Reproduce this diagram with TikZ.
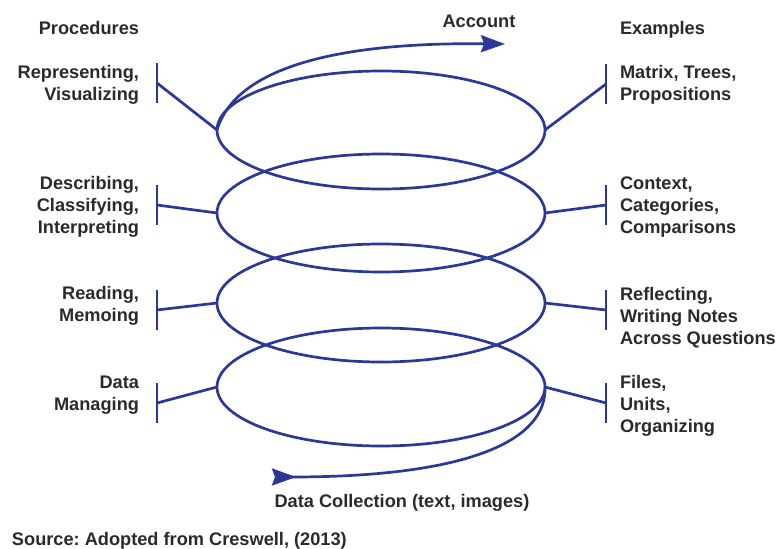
\documentclass[tikz,border=0pt]{standalone}
\usepackage{fontspec}
\setmainfont{Liberation Sans}
\usetikzlibrary{arrows.meta,shapes.geometric}
\definecolor{loopblue}{RGB}{44,56,152}
\definecolor{inkgray}{RGB}{42,42,42}
\frenchspacing
\begin{document}
\begin{tikzpicture}[x=1pt,y=-1pt,
  txt/.style={font=\bfseries\fontsize{18.2}{22}\selectfont, text=inkgray, inner sep=0pt, outer sep=0pt},
  % a multi-line node's base is the baseline of its last line
  lefttxt/.style={txt, align=right, anchor=base east},
  righttxt/.style={txt, align=left, anchor=base west},
  loop/.style={draw=loopblue, line width=2.7pt, ellipse, minimum width=328pt, minimum height=118pt, inner sep=0pt, outer sep=0pt},
  tickmark/.style={minimum height=40pt, minimum width=0pt, inner sep=0pt, outer sep=0pt},
  link/.style={draw=loopblue, line width=2.7pt},
  flow/.style={link, -{Stealth[length=24pt,width=17pt,inset=3pt]}},
  backflow/.style={link, -{Stealth[length=24pt,width=17pt,inset=3pt,reversed]}},
]
\useasboundingbox (0,0) rectangle (780,549);

% the four stacked loops
\node[loop] (e1) at (381,130) {};
\node[loop] (e2) at (381,213) {};
\node[loop] (e3) at (381,303) {};
\node[loop] (e4) at (381,387) {};

% tick marks in front of the labels
\node[tickmark] (tl1) at (157,83) {};
\node[tickmark] (tl2) at (157,205) {};
\node[tickmark] (tl3) at (157,310) {};
\node[tickmark] (tl4) at (157,403) {};
\node[tickmark] (tr1) at (606,84) {};
\node[tickmark] (tr2) at (606,205) {};
\node[tickmark] (tr3) at (606,310) {};
\node[tickmark] (tr4) at (606,403) {};
\foreach \t in {tl1,tl2,tl3,tl4,tr1,tr2,tr3,tr4}
  \draw[link] (\t.north) -- (\t.south);

% connectors from the loops to the tick marks
\draw[link] (e1.west) -- (tl1.center);
\draw[link] (e2.west) -- (tl2.center);
\draw[link] (e3.west) -- (tl3.center);
\draw[link] (e4.west) -- (tl4.center);
\draw[link] (e1.east) -- (tr1.center);
\draw[link] (e2.east) -- (tr2.center);
\draw[link] (e3.east) -- (tr3.center);
\draw[link] (e4.east) -- (tr4.center);

% entry and exit arrows of the spiral
\coordinate (accend) at (505,44);
\coordinate (dcend) at (272,477);
\draw[flow] (e1.west) .. controls (235,70) and (330,42) .. (accend);
\draw[backflow] (e4.east) .. controls (547,440) and (470,477) .. (dcend);

% headings
\node[txt, anchor=base east] (proc) at (139,34.5) {Procedures};
\node[txt, anchor=base west] (exam) at (620,34.5) {Examples};
\node[txt, anchor=base] (acc) at (479,27) {Account};
\node[txt, anchor=base] (dc) at (402,507) {Data Collection (text, images)};

% procedures
\node[lefttxt] (p1) at (139,100.5) {Representing,\\Visualizing};
\node[lefttxt] (p2) at (139,233) {Describing,\\Classifying,\\Interpreting};
\node[lefttxt] (p3) at (139,321.5) {Reading,\\Memoing};
\node[lefttxt] (p4) at (139,410.5) {Data\\Managing};

% examples
\node[righttxt] (x1) at (620,100.5) {Matrix, Trees,\\Propositions};
\node[righttxt] (x2) at (620,233) {Context,\\Categories,\\Comparisons};
\node[righttxt] (x3) at (620,344) {Reflecting,\\Writing Notes\\Across Questions};
\node[righttxt] (x4) at (620,432) {Files,\\Units,\\Organizing};

\node[txt, anchor=base west] (src) at (12,545) {Source: Adopted from Creswell, (2013)};
\end{tikzpicture}
\end{document}
